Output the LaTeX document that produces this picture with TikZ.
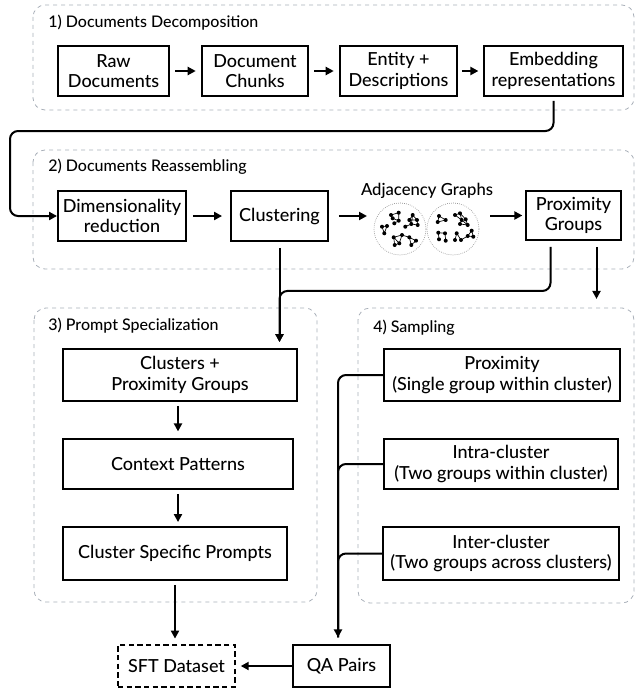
\documentclass[tikz,border=0pt]{standalone}
\usepackage{fontspec}
\setmainfont{Lato Medium}
\usepackage{tikz}
\usetikzlibrary{calc,arrows.meta}
\definecolor{grpgray}{RGB}{168,175,184}

\begin{document}
\begin{tikzpicture}[x=0.75pt,y=-0.75pt,>={Triangle[length=6pt,width=6pt]},
  box/.style={draw,line width=1.4pt,align=center,inner sep=0pt,
    font=\fontsize{13.5}{15.5}\selectfont},
  wh/.style 2 args={minimum width=0.75pt*#1,minimum height=0.75pt*#2},
  grp/.style={draw=grpgray,dashed,line width=0.6pt,rounded corners=9pt},
  grptitle/.style={anchor=west,inner sep=0pt,font=\fontsize{12}{14}\selectfont},
  flow/.style={->,line width=1.5pt},
  feed/.style={flow,rounded corners=6pt},
  adjcircle/.style={circle,draw=black!45,densely dotted,line width=0.5pt,
    minimum size=39pt,inner sep=0pt},
  gedge/.style={line width=0.5pt}]
\useasboundingbox (0,0) rectangle (635,692);

% stage frames
\draw[grp] (33,5) rectangle (634,110);
\draw[grp] (33,150) rectangle (634,269);
\draw[grp] (34,308) rectangle (317,602);
\draw[grp] (358,308) rectangle (634,603);
\node[grptitle] (t1) at (48,23) {1) Documents Decomposition};
\node[grptitle] (t2) at (48,167) {2) Documents Reassembling};
\node[grptitle] (t3) at (48,326) {3) Prompt Specialization};
\node[grptitle] (t4) at (373,328) {4) Sampling};

% row 1
\node[box,wh={111}{50}] (raw) at (113.5,71) {Raw\\Documents};
\node[box,wh={106}{50}] (chunks) at (255,71) {Document\\Chunks};
\node[box,wh={117}{50}] (entity) at (398.5,71) {Entity +\\Descriptions};
\node[box,wh={139}{50}] (embed) at (553.5,71) {Embedding\\representations};

% row 2
\node[box,wh={128}{50}] (dim) at (122,216) {Dimensionality\\reduction};
\node[box,wh={97}{50}] (clust) at (279.5,216) {Clustering};
\node[font=\fontsize{12.5}{14}\selectfont] (adjlbl) at (427,191) {Adjacency Graphs};
\node[adjcircle] (gA) at (400,229) {};
\node[adjcircle] (gB) at (453,229) {};
\node[box,wh={95}{49}] (prox) at (573.5,215.5) {Proximity\\Groups};

% graphs inside the circles
\begin{scope}[shift={(gA.center)}]
  \draw[gedge] (-9,-14) -- (-1.3,-16.3) -- (-1.3,-8.3) -- (-5.7,-5.7)
    (-9,-14) -- (-7.3,-10.7) -- (-1.3,-8.3);
  \draw[gedge] (12.7,-14) -- (9.3,-9) -- (11.3,-5) -- (17.7,-4) -- (17,-9) -- (12.7,-14)
    (9.3,-9) -- (17,-9) (11.3,-5) -- (5.3,-2.3) (12.7,-14) -- (11.3,-5);
  \draw[gedge] (-18,-2.3) -- (-13,-3) -- (-15.7,4.3) -- cycle;
  \draw[gedge] (-6.3,8.3) -- (2,6) -- (9.3,8.3) -- (11.3,16) -- (16,11.7) -- (9.3,8.3)
    (-6.3,8.3) -- (-5.3,16) -- (-0.7,14.3) -- (2,6) (-6.3,8.3) -- (-0.7,14.3);
  \foreach \x/\y in {-9/-14,-1.3/-16.3,-1.3/-8.3,-5.7/-5.7,-7.3/-10.7,
      12.7/-14,9.3/-9,17/-9,11.3/-5,17.7/-4,5.3/-2.3,
      -18/-2.3,-13/-3,-15.7/4.3,
      -6.3/8.3,2/6,9.3/8.3,-5.3/16,-0.7/14.3,11.3/16,16/11.7}
    \fill (\x,\y) circle (1.5pt);
\end{scope}
\begin{scope}[shift={(gB.center)}]
  \draw[gedge] (-14,-13) -- (-15.3,-7) -- (-7.3,-9) -- cycle;
  \draw[gedge] (2,-14) -- (7,-15.7) -- (12.7,-9.7) -- (14.7,-4) -- (7,-5) -- (8.7,-9) -- (2,-14)
    (8.7,-9) -- (14.7,-4) (7,-15.7) -- (8.7,-9);
  \draw[gedge] (-14,10.3) -- (-14.7,3.7) -- (-8,4.3) -- (-7.3,11.7);
  \draw[gedge] (2,11) -- (3.7,4.3) -- (8,11) (14.7,7) -- (8,11)
    (14.7,7) -- (18.7,1.7) -- (20.3,7.7) -- cycle;
  \foreach \x/\y in {-14/-13,-15.3/-7,-7.3/-9,
      2/-14,7/-15.7,8.7/-9,7/-5,14.7/-4,12.7/-9.7,
      -14.7/3.7,-8/4.3,-14/10.3,-7.3/11.7,
      3.7/4.3,2/11,8/11,18.7/1.7,20.3/7.7,14.7/7}
    \fill (\x,\y) circle (1.5pt);
\end{scope}

% prompt specialization
\node[box,wh={234}{52}] (cp) at (180,375) {Clusters +\\Proximity Groups};
\node[box,wh={230}{50}] (ctx) at (178,464) {Context Patterns};
\node[box,wh={224}{53}] (csp) at (175,553.5) {Cluster Specific Prompts};

% sampling
\node[box,wh={236}{52}] (sprox) at (502,375) {Proximity\\(Single group within cluster)};
\node[box,wh={234}{50}] (intra) at (501,464) {Intra-cluster\\(Two groups within cluster)};
\node[box,wh={236}{53}] (inter) at (501,553.5) {Inter-cluster\\(Two groups across clusters)};

% outputs
\node[box,wh={117}{42},dashed,line width=1.6pt,dash pattern=on 4pt off 2.5pt] (sft) at (176.5,666) {SFT Dataset};
\node[box,wh={97}{42}] (qa) at (341.5,666) {QA Pairs};

% connectors
\draw[flow,shorten <=4pt,shorten >=4pt] (raw) -- (chunks);
\draw[flow,shorten <=4pt,shorten >=4pt] (chunks) -- (entity);
\draw[flow,shorten <=3pt,shorten >=3.5pt] (entity) -- (embed);
\coordinate (loop) at (10,131);
\draw[feed,shorten <=3pt] (embed.south) |- (loop) |- (dim.west);
\draw[flow,shorten <=4.5pt,shorten >=6pt] (dim) -- (clust);
\draw[flow,shorten <=7.5pt,shorten >=5pt] (clust.east) -- (clust.east -| gA.west);
\draw[flow,shorten <=8pt,shorten >=2pt] (gB.east |- prox.west) -- (prox.west);
\coordinate (merge) at ($(clust.south)+(0,49)$);
\draw[flow,shorten <=4.5pt,shorten >=4.5pt] (clust.south) -- (clust.south |- cp.north);
\draw[feed,shorten <=4.5pt,shorten >=4.5pt] ($(prox.south)+(-23,0)$) |- (merge) -- (clust.south |- cp.north);
\draw[flow,shorten <=4.5pt] ($(prox.south)+(23,0)$) -- ($(prox.south)+(23,58)$);
\draw[flow,shorten <=3pt,shorten >=5pt] (ctx.north |- cp.south) -- (ctx.north);
\draw[flow,shorten <=3pt,shorten >=3pt] (ctx.south) -- (ctx.south |- csp.north);
\draw[flow,shorten <=3pt,shorten >=4pt] (csp.south) -- (csp.south |- sft.north);
\draw[flow,shorten >=3.5pt] (qa.west) -- (sft.east);
\coordinate (qin) at ($(qa.north)+(-3.5,0)$);
\draw[feed,shorten >=5pt] (sprox.west) -| (qin);
\draw[feed,-,shorten >=5pt] (intra.west) -| (qin);
\draw[feed,-,shorten >=5pt] (inter.west) -| (qin);
\end{tikzpicture}
\end{document}
